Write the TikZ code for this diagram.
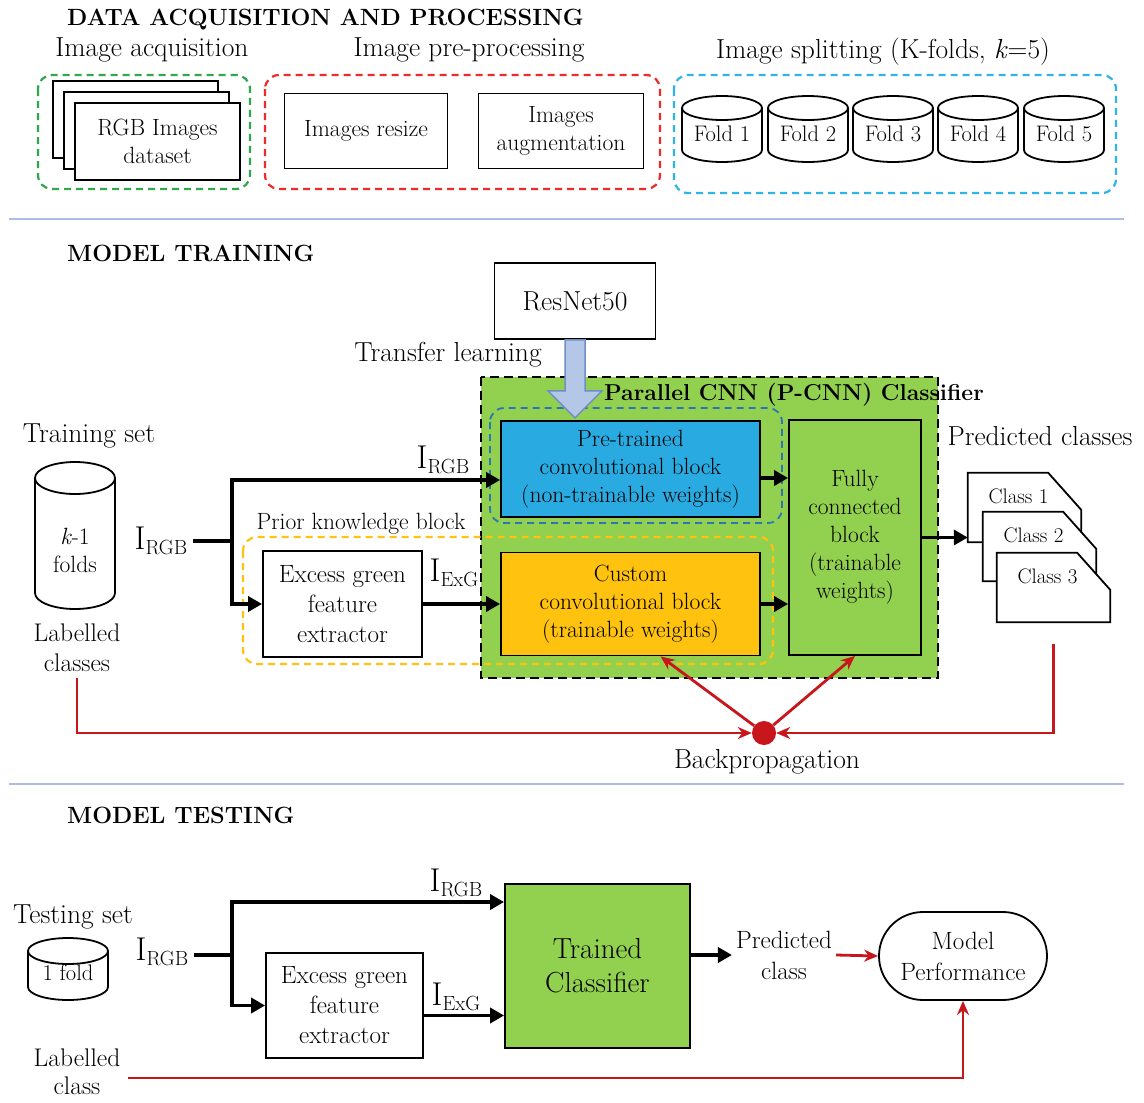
\documentclass[tikz,border=0pt]{standalone}
\usepackage{amsfonts,amssymb,amsmath}
\usepackage{xcolor}
\usepackage{tikz}
\usetikzlibrary{arrows.meta,shapes,calc}

\definecolor{pcnngreen}{HTML}{92D050}
\definecolor{pretrblue}{HTML}{29ABE2}
\definecolor{custorange}{HTML}{FFC20E}
\definecolor{acqgreen}{HTML}{2EA84A}
\definecolor{prered}{HTML}{EE2A2A}
\definecolor{splitcyan}{HTML}{2FB4E9}
\definecolor{tlfill}{HTML}{B4C7E7}
\definecolor{tldraw}{HTML}{6F8FC8}
\definecolor{bpred}{HTML}{C8161D}
\definecolor{sepblue}{HTML}{A9BDE6}
\definecolor{pknblue}{HTML}{2E75B6}

\newcommand{\fsec}{\fontsize{23.5}{28}\selectfont\bfseries}
\newcommand{\fttl}{\fontsize{23}{28}\selectfont\bfseries}
\newcommand{\flab}{\fontsize{27.5}{32}\selectfont}
\newcommand{\flabs}{\fontsize{25.5}{30}\selectfont}
\newcommand{\fblk}{\fontsize{23.5}{28}\selectfont}
\newcommand{\ffold}{\fontsize{22.5}{28}\selectfont}
\newcommand{\fcls}{\fontsize{21}{26}\selectfont}
\newcommand{\fblkb}{\fontsize{25}{30}\selectfont}
\newcommand{\fsml}{\fontsize{25}{31}\selectfont}
\newcommand{\fbig}{\fontsize{29}{34}\selectfont}
\newcommand{\Isub}[1]{{\fontsize{33}{36}\selectfont I}\raisebox{-5pt}{\fontsize{20.5}{24}\selectfont #1}}
% cylinder: centre x, top y, bottom y, x radius, y radius
\newcommand{\drum}[5]{%
  \draw[line width=1.8pt,fill=white] (#1-#4,#2) -- (#1-#4,#3)
    arc[start angle=180,end angle=360,x radius=#4pt,y radius=#5pt] -- (#1+#4,#2)
    arc[start angle=0,end angle=180,x radius=#4pt,y radius=#5pt] -- cycle;
  \draw[line width=1.8pt] (#1-#4,#2) arc[start angle=180,end angle=360,x radius=#4pt,y radius=#5pt];}

\begin{document}
\begin{tikzpicture}[x=1pt,y=-1pt,
  blk/.style={line width=3.5pt,-{Triangle[length=14pt,width=15pt]}},
  blkln/.style={line width=3.5pt},
  redln/.style={bpred,line width=2.8pt,-{Stealth[length=14pt,width=12pt]}},
  grp/.style={dash pattern=on 7pt off 5pt,line width=2.2pt,rounded corners=14pt},
  plainbox/.style={draw,line width=1.8pt,align=center,inner sep=0pt,font=\fblk},
  lbl/.style={align=center,inner sep=0pt,font=\flab}]
\fill[white] (0,0) rectangle (1144,1103);
\useasboundingbox (0,0) rectangle (1144,1103);

% data acquisition and processing
\node[anchor=west,font=\fsec,inner sep=0] (ttl1) at (67,20) {DATA ACQUISITION AND PROCESSING};
\node[lbl] (acq) at (152,50) {Image acquisition};
\draw[grp,acqgreen] (38,75) rectangle (250,189);
\foreach \d in {0,11}
  \draw[line width=1.8pt,fill=white] (53+\d,81+\d) rectangle (218+\d,158+\d);
\node[plainbox,fill=white,minimum width=165,minimum height=77] (rgb) at (157.5,141.5) {RGB Images\\dataset};

\node[lbl] (preproc) at (469,50) {Image pre-processing};
\draw[grp,prered] (265,75) rectangle (660,189);
\node[plainbox,minimum width=163,minimum height=75] (resize) at (366,131) {Images resize};
\node[plainbox,minimum width=165,minimum height=75] (augm) at (561,131) {Images\\augmentation};

\node[lbl] (split) at (883,52) {Image splitting (K-folds, \textit{k}=5)};
\draw[grp,splitcyan] (674,75) rectangle (1116,193);
\foreach \i/\x in {1/722,2/808,3/893,4/978,5/1064}{
  \drum{\x}{108}{150}{40}{12}
  \node[font=\ffold] (fold\i) at (\x,134) {Fold \i};
}

\draw[sepblue,line width=1.5pt] (9,219) -- (1124,219);

% model training
\node[anchor=west,font=\fsec,inner sep=0] (ttl2) at (67,253) {MODEL TRAINING};
\node[plainbox,minimum width=161,minimum height=76,font=\flab] (resnet) at (575,301) {ResNet50};
\node[lbl] (tl) at (448,355) {Transfer learning};

\draw[fill=pcnngreen,dash pattern=on 9pt off 5pt,line width=2.2pt] (481,377) rectangle (938,678);
\draw[grp,pknblue,line width=1.8pt] (490,408) rectangle (782,523);
\draw[grp,custorange] (243,537) rectangle (773,664);
\node[font=\fttl] (pcnn) at (794,395) {Parallel CNN (P-CNN) Classifier};

\node[plainbox,fill=pretrblue,minimum width=259,minimum height=96] (pretr) at (630.5,469)
  {Pre-trained\\convolutional block\\(non-trainable weights)};
\node[plainbox,fill=custorange,minimum width=259,minimum height=103] (cust) at (630.5,604)
  {Custom\\convolutional block\\(trainable weights)};
\node[plainbox,fill=pcnngreen,minimum width=132,minimum height=235] (fc) at (855,537.5)
  {Fully\\connected\\block\\(trainable\\weights)};

\draw[tldraw,fill=tlfill,line width=1.5pt] ([xshift=-10pt]resnet.south) -- ++(0,51) -- ++(-17,0)
  -- ++(27,27) -- ++(27,-27) -- ++(-17,0) -- ++(0,-51) -- cycle;

\node[lbl] (trset) at (89,436) {Training set};
\drum{75}{478}{593}{40}{16}
\node[font=\fblk,align=center] (kfold) at (75,550) {\textit{k}-1\\folds};
\node[lbl,font=\flabs] (labc) at (77,648) {Labelled\\classes};

\node[inner sep=0] (irgb1) at (161,541) {\Isub{RGB}};
\coordinate (sp1) at (232,541);
\node[font=\fblk,inner sep=0] (pkb) at (361,524) {Prior knowledge block};
\node[plainbox,font=\fblkb,minimum width=159,minimum height=106] (exg) at (342.5,604) {Excess green\\feature\\extractor};
\node[inner sep=0] (irgbtop) at (443,460) {\Isub{RGB}};
\node[inner sep=0] (iexg1) at (454,573) {\Isub{ExG}};

\draw[blkln] ([xshift=6pt]irgb1.east |- sp1) -- (sp1);
\draw[blk] (sp1) |- ([yshift=-11pt]pretr.west);
\draw[blk] (sp1) |- (exg.west);
\draw[blk] (exg.east) -- (cust.west);
\draw[blk] ([yshift=-9pt]pretr.east) -- ([yshift=-9pt]pretr.east -| fc.west);
\draw[blk] (cust.east) -- (cust.east -| fc.west);

\node[lbl] (predcls) at (1040,436) {Predicted classes};
\foreach \i/\x/\y in {1/1024.5/507.5,2/1039.5/546.5,3/1053.5/587.5}{
  \node[minimum width=113,minimum height=69,inner sep=0] (c\i) at (\x,\y) {};
  \draw[line width=1.8pt,fill=white] (c\i.north west) -- ([xshift=-33pt]c\i.north east)
    -- ([yshift=-37pt]c\i.north east) -- (c\i.south east) -- (c\i.south west) -- cycle;
  \node[font=\fcls,inner sep=0] (c\i t) at ([xshift=-6pt,yshift=11pt]c\i.center) {Class \i};
}
\draw[blk] (fc.east) -- (fc.east -| c1.west);

\node[circle,fill=bpred,minimum size=24pt,inner sep=0] (bp) at (764,733) {};
\node[lbl] (bptxt) at (767,762) {Backpropagation};
\draw[redln] ([yshift=-6pt]labc.south) |- (bp.west);
\draw[redln] ([yshift=-22pt]c3.south) |- (bp.east);
\draw[redln] (bp) -- ([xshift=30pt]cust.south);
\draw[redln] (bp) -- (fc.south);

\draw[sepblue,line width=1.5pt] (9,784) -- (1124,784);

% model testing
\node[anchor=west,font=\fsec,inner sep=0] (ttl3) at (67,815) {MODEL TESTING};
\node[lbl] (tsset) at (73,917) {Testing set};
\drum{68}{951}{987}{40}{13}
\node[font=\ffold] (fold1t) at (68,973) {1 fold};

\node[inner sep=0] (irgb2) at (162,952) {\Isub{RGB}};
\coordinate (sp2) at (232,955);
\node[plainbox,font=\fblkb,minimum width=157,minimum height=105] (exg2) at (344.5,1005.5) {Excess green\\feature\\extractor};
\node[plainbox,fill=pcnngreen,font=\fbig,minimum width=185,minimum height=164] (tc) at (597.5,966) {Trained\\Classifier};
\node[inner sep=0] (irgb3) at (456,883) {\Isub{RGB}};
\node[inner sep=0] (iexg2) at (456,997) {\Isub{ExG}};

\draw[blkln] ([xshift=6pt]irgb2.east |- sp2) -- (sp2);
\draw[blk] (sp2) |- ([yshift=64pt]tc.west);
\draw[blk] (sp2) |- (exg2.west);
\draw[blk] ([yshift=-10pt]exg2.east) -- ([yshift=-10pt]exg2.east -| tc.west);

\node[font=\fsml,align=center,inner sep=0] (pcl) at (784,955) {Predicted\\class};
\node[draw,rounded rectangle,line width=1.8pt,minimum width=168,minimum height=88,font=\fsml,align=center,inner sep=0] (perf) at (963,956) {Model\\Performance};
\draw[blk] (tc.east |- pcl.west) -- ([xshift=-4pt]pcl.west);
\draw[redln] ([xshift=4pt]pcl.east) -- (perf.west);

\node[font=\fontsize{25.5}{28}\selectfont,align=center,inner sep=0] (labt) at (77,1072) {Labelled\\class};
\draw[redln] ([xshift=8pt]labt.east |- 0,1078) -| (perf.south);
\end{tikzpicture}
\end{document}
